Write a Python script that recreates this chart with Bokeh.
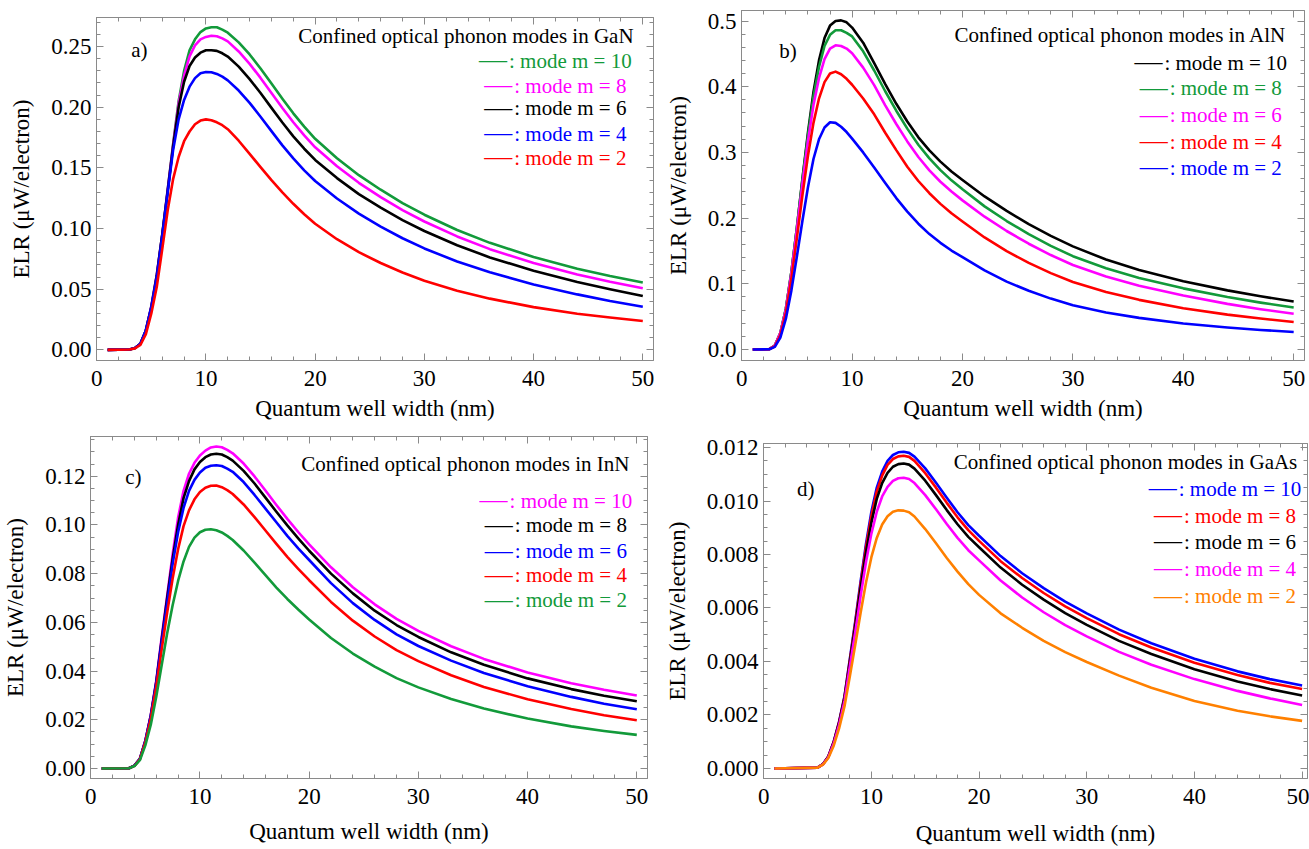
from bokeh.plotting import figure
from bokeh.models import Range1d, LinearAxis, SingleIntervalTicker, Label, PrintfTickFormatter, Spacer
from bokeh.layouts import column, row
from bokeh.embed import file_html
from bokeh.resources import INLINE

# ---------------- data ----------------
# a) GaN
xa = [1, 3, 3.5, 4, 4.5, 5, 5.5, 6, 6.5, 7, 7.5, 8, 8.5, 9, 9.5, 10, 10.5, 11, 11.5, 12,
      13, 14, 15, 16, 17, 18, 19, 20, 22, 24, 26, 28, 30, 33, 36, 40, 44, 47, 50]
a_m10 = [0, .0003, .0015, .005, .016, .036, .062, .095, .132, .170, .205, .230, .247, .256, .262, .265, .266, .266, .264,
         .2615, .2535, .2435, .232, .2195, .207, .195, .184, .174,
         .158, .144, .132, .121, .1114, .0988, .0882, .0765, .0669, .0608, .0555]
a_m8 = [0, .0003, .0015, .005, .016, .036, .062, .095, .132, .169, .203, .226, .242, .251, .256, .258, .259, .2585, .2568,
        .2543, .246, .2358, .2242, .2118, .1994, .1876, .1768, .167,
        .1514, .1377, .1259, .1152, .1058, .0935, .083, .0715, .0621, .0561, .0508]
a_m6 = [0, .0003, .0015, .005, .016, .035, .061, .095, .131, .168, .200, .221, .234, .241, .245, .247, .247, .2465, .2445,
        .2418, .2335, .2232, .2117, .1995, .1874, .176, .1658, .1566,
        .1416, .1284, .1172, .107, .098, .0862, .0762, .0652, .0559, .0499, .0444]
a_m4 = [0, .0003, .0015, .005, .016, .035, .060, .094, .130, .165, .190, .206, .217, .224, .228, .229, .2289, .2275, .2252,
        .2222, .2138, .2036, .1922, .1803, .1686, .1578, .148, .1392,
        .1248, .1123, .1016, .092, .0836, .0728, .0639, .0539, .0457, .0402, .0355]
a_m2 = [0, .0003, .0012, .004, .013, .030, .052, .083, .115, .141, .159, .172, .180, .186, .189, .190, .1893, .1876, .1852,
        .1819, .1724, .1616, .1506, .1399, .1298, .1204, .1118, .104,
        .0912, .0805, .0716, .0638, .057, .0488, .0422, .0352, .0298, .0266, .0238]

# b) AlN
xb = [1, 2.5, 3, 3.5, 4, 4.5, 5, 5.5, 6, 6.5, 7, 7.5, 8, 8.5, 9, 9.5, 10,
      11, 12, 13, 14, 15, 16, 17, 18, 19, 20, 22, 24, 26, 28, 30, 33, 36, 40, 44, 47, 50]
b_m10 = [0, .0005, .006, .025, .062, .118, .186, .260, .330, .392, .440, .474, .493, .500, .501, .498, .490,
         .467, .436, .404, .374, .347, .323, .303, .286, .271, .258,
         .233, .211, .191, .173, .157, .137, .121, .104, .090, .081, .073]
b_m8 = [0, .0005, .006, .025, .062, .118, .186, .258, .326, .385, .430, .462, .479, .486, .486, .482, .4765,
        .4539, .4247, .3931, .3635, .3362, .3117, .2909, .2731, .2575, .2438,
        .2179, .1956, .1757, .1578, .1421, .1236, .1089, .0931, .0799, .0714, .064]
b_m6 = [0, .0005, .006, .025, .061, .116, .183, .252, .317, .372, .413, .442, .458, .463, .462, .458, .451,
        .429, .4024, .3717, .3433, .3168, .293, .2727, .2554, .2404, .227,
        .2022, .1804, .161, .1438, .1287, .111, .097, .0822, .0695, .0614, .0544]
b_m4 = [0, .0005, .005, .022, .056, .108, .170, .235, .295, .345, .382, .407, .420, .423, .419, .412, .403,
        .382, .358, .330, .3035, .2783, .2565, .2379, .2217, .2073, .1948,
        .1706, .1498, .1318, .1163, .1028, .0874, .0756, .0629, .0531, .0471, .042]
b_m2 = [0, .0004, .004, .018, .047, .090, .142, .196, .247, .290, .320, .338, .346, .345, .339, .331, .321,
        .300, .277, .2535, .2305, .2099, .1915, .1757, .1624, .1507, .1406,
        .1205, .1034, .0894, .0775, .0675, .0564, .0482, .0395, .0335, .0298, .0266]

# c) InN
xc = [1, 3.5, 4, 4.5, 5, 5.5, 6, 6.5, 7, 7.5, 8, 8.5, 9, 9.5, 10, 10.5, 11, 11.5, 12, 12.5,
      13, 14, 15, 16, 17, 18, 19, 20, 22, 24, 26, 28, 30, 33, 36, 40, 44, 47, 50]
c_m10 = [0, .0001, .0012, .004, .0115, .022, .036, .054, .071, .088, .103, .114, .121, .1255, .1285, .1305, .1318, .1322, .1319, .1308,
         .1294, .1252, .1199, .1141, .1082, .1025, .0971, .092,
         .0826, .0744, .0674, .0614, .0565, .0502, .045, .0394, .035, .0323, .030]
c_m8 = [0, .0001, .0012, .004, .0113, .0218, .0355, .053, .070, .086, .100, .111, .118, .1228, .1258, .1278, .1289, .1292, .1289, .1278,
        .1264, .1222, .117, .1112, .1054, .0998, .0945, .0894,
        .08, .0719, .0648, .0589, .054, .0477, .0426, .037, .0326, .0299, .0276]
c_m6 = [0, .0001, .0012, .004, .0112, .0215, .035, .052, .068, .084, .097, .107, .114, .1185, .1215, .1235, .1243, .1245, .1242, .1231,
        .1218, .1176, .1123, .1067, .1011, .0955, .0904, .0856,
        .0761, .0679, .061, .0551, .0503, .0443, .0392, .0338, .0294, .0266, .0243]
c_m4 = [0, .0001, .0011, .0038, .0107, .0205, .0335, .049, .064, .078, .090, .0995, .106, .1105, .1135, .1153, .1161, .1162, .1155, .1143,
        .1127, .1084, .1032, .0977, .0922, .0869, .082, .0773,
        .0684, .0607, .0542, .0486, .0441, .0383, .0335, .0284, .0244, .0219, .0198]
c_m2 = [0, .0001, .001, .0034, .0095, .018, .0295, .0425, .0555, .067, .077, .085, .091, .0948, .097, .098, .0982, .0978, .0969, .0955,
        .0938, .0895, .0845, .0794, .0743, .0696, .0653, .0612,
        .0536, .0472, .0418, .0371, .0333, .0285, .0246, .0205, .0173, .0154, .0138]

# d) GaAs
xd = [1, 5, 5.5, 6, 6.5, 7, 7.5, 8, 8.5, 9, 9.5, 10, 10.5, 11, 11.5, 12, 12.5, 13, 13.5, 14,
      15, 16, 17, 18, 19, 20, 22, 24, 26, 28, 30, 33, 36, 40, 44, 47, 50]
d_m10 = [0, .00003, .00016, .00045, .001, .00175, .0027, .0041, .0055, .007, .0084, .0096, .0105, .0111, .0115, .01172, .01182, .01184, .0118, .01166,
         .01122, .01068, .01012, .00958, .0091, .0087,
         .00794, .0073, .00674, .00624, .0058, .00519, .00468, .0041, .00363, .00334, .0031]
d_m8 = [0, .00003, .00016, .00045, .00099, .00173, .00267, .00405, .00543, .0069, .00828, .00945, .01035, .01095, .01135, .01157, .01167, .01169, .01165, .0115,
        .01104, .0105, .00993, .00939, .00891, .00851,
        .00775, .00712, .00656, .00606, .00562, .00502, .00452, .00395, .00349, .0032, .00297]
d_m6 = [0, .00003, .00016, .00044, .00097, .0017, .00262, .00397, .00532, .00675, .00808, .0092, .01008, .01067, .01105, .01128, .01138, .0114, .01136, .01121,
        .01076, .01022, .00966, .00913, .00866, .00827,
        .00751, .00687, .00631, .00581, .00537, .00477, .00428, .00371, .00325, .00297, .00273]
d_m4 = [0, .00003, .00015, .00042, .00093, .00163, .00252, .00382, .0051, .00645, .00772, .00878, .0096, .01017, .01053, .01075, .01085, .01087, .01082, .01067,
        .01022, .00969, .00914, .00862, .00816, .00778,
        .00703, .00639, .00584, .00536, .00494, .00436, .00388, .00334, .0029, .00262, .00237]
d_m2 = [0, .00003, .00014, .00039, .00085, .0015, .00232, .00345, .00462, .00582, .00695, .0079, .00862, .00912, .00943, .0096, .00965, .00964, .00958, .00942,
        .00895, .00842, .00787, .00736, .00689, .00649,
        .0058, .00526, .00477, .00435, .00398, .00347, .00302, .00252, .00216, .00195, .00178]

materials = ["GaN", "AlN", "InN", "GaAs"]
panel_tags = ["a)", "b)", "c)", "d)"]
mode_labels = ["mode m = 10", "mode m = 8", "mode m = 6", "mode m = 4", "mode m = 2"]
x_label = "Quantum well width (nm)"
y_label = "ELR (\u03bcW/electron)"

GREEN = "#129a3a"
MAGENTA = "#ff00ff"
BLACK = "#000000"
BLUE = "#0000ff"
RED = "#ff0000"
ORANGE = "#ff8000"

FONT = "Liberation Serif"
GRAY = "#8a8a8a"
LEG_PX = 21      # legend text size
DASH_PX = 28     # legend dash size

# approximate Times-like advance widths (em) for the legend text
CW = {":": 0.278, " ": 0.25, "m": 0.778, "o": 0.5, "d": 0.5, "e": 0.444, "=": 0.564}


def text_width_px(s, size):
    return sum(CW.get(ch, 0.5) for ch in s) * size


def style_axis(ax, labels=True, ticker=None, fmt=None):
    ax.ticker = ticker
    if fmt is not None:
        ax.formatter = fmt
    ax.axis_line_color = GRAY
    ax.major_tick_line_color = GRAY
    ax.minor_tick_line_color = GRAY
    ax.major_tick_in = 7
    ax.major_tick_out = 0
    ax.minor_tick_in = 4
    ax.minor_tick_out = 0
    ax.major_label_text_font = FONT
    if labels:
        ax.major_label_text_font_size = "23px"
        ax.major_label_text_color = "black"
    else:
        ax.major_label_text_font_size = "1px"
        ax.major_label_text_color = None
        ax.major_label_standoff = 0


def make_panel(cfg):
    p = figure(x_range=Range1d(*cfg["xr"]), y_range=Range1d(*cfg["yr"]),
               frame_width=cfg["fw"], frame_height=cfg["fh"],
               min_border_left=cfg["bl"], min_border_right=cfg["br"],
               min_border_top=cfg["bt"], min_border_bottom=cfg["bb"],
               output_backend="svg", toolbar_location=None,
               background_fill_color="white", border_fill_color="white")
    p.xgrid.visible = False
    p.ygrid.visible = False
    p.outline_line_color = GRAY

    xt = SingleIntervalTicker(interval=10, num_minor_ticks=5)
    yt = SingleIntervalTicker(interval=cfg["yint"], num_minor_ticks=cfg["yminor"])

    style_axis(p.xaxis[0], True, xt, PrintfTickFormatter(format="%d"))
    style_axis(p.yaxis[0], True, yt, PrintfTickFormatter(format=cfg["yfmt"]))
    p.xaxis[0].major_label_standoff = 10
    p.yaxis[0].major_label_standoff = 5
    p.xaxis[0].axis_label = x_label
    p.yaxis[0].axis_label = y_label
    for ax in (p.xaxis[0], p.yaxis[0]):
        ax.axis_label_text_font = FONT
        ax.axis_label_text_font_size = "23px"
        ax.axis_label_text_font_style = "normal"
        ax.axis_label_text_color = "black"
    p.xaxis[0].axis_label_standoff = cfg["xls"]
    p.yaxis[0].axis_label_standoff = 14

    top = LinearAxis()
    style_axis(top, False, SingleIntervalTicker(interval=10, num_minor_ticks=5))
    p.add_layout(top, "above")
    right = LinearAxis()
    style_axis(right, False, SingleIntervalTicker(interval=cfg["yint"], num_minor_ticks=cfg["yminor"]))
    p.add_layout(right, "right")

    for ys, col in zip(cfg["series"], cfg["colors"]):
        p.line(cfg["x"], ys, line_color=col, line_width=2.6, line_join="round")

    p.add_layout(Label(x=cfg["tag"][0], y=cfg["tag"][1], text=cfg["tagtext"],
                       text_font=FONT, text_font_size="21px", text_color="black",
                       text_align="center", text_baseline="middle"))
    p.add_layout(Label(x=cfg["title"][0], y=cfg["title"][1],
                       text="Confined optical phonon modes in " + cfg["mat"],
                       text_font=FONT, text_font_size="21px", text_color="black",
                       text_align="center", text_baseline="middle"))

    # legend rows: coloured dash + ": mode m = N", centred on legx
    pxu = cfg["fw"] / (cfg["xr"][1] - cfg["xr"][0])   # pixels per x unit
    for lab, col, ly in zip(mode_labels, cfg["colors"], cfg["legy"]):
        txt = ": " + lab
        total = DASH_PX + text_width_px(txt, LEG_PX)
        x_join = cfg["legx"] + (-total / 2.0 + DASH_PX) / pxu
        p.add_layout(Label(x=x_join, y=ly, text="\u2014",
                           text_font=FONT, text_font_size="%dpx" % DASH_PX,
                           text_color=col, text_align="right", text_baseline="middle",
                           y_offset=2))
        p.add_layout(Label(x=x_join, y=ly, text=txt, x_offset=2,
                           text_font=FONT, text_font_size="%dpx" % LEG_PX, text_color=col,
                           text_align="left", text_baseline="middle"))
    return p


cfg_a = dict(x=xa, series=[a_m10, a_m8, a_m6, a_m4, a_m2], colors=[GREEN, MAGENTA, BLACK, BLUE, RED],
             xr=(-0.02, 50.98), yr=(-0.0088, 0.274), fw=557, fh=343, bl=96, br=7, bt=10, bb=65,
             yint=0.05, yminor=5, yfmt="%.2f", xls=7, mat=materials[0], tagtext=panel_tags[0],
             tag=(3.9, 0.2476), title=(33.8, 0.259), legx=41.9,
             legy=[0.2385, 0.2179, 0.1990, 0.1783, 0.1585])
cfg_b = dict(x=xb, series=[b_m10, b_m8, b_m6, b_m4, b_m2], colors=[BLACK, GREEN, MAGENTA, RED, BLUE],
             xr=(-0.02, 50.98), yr=(-0.0167, 0.516), fw=563, fh=350, bl=81, br=5, bt=10, bb=65,
             yint=0.1, yminor=5, yfmt="%.1f", xls=7, mat=materials[1], tagtext=panel_tags[1],
             tag=(4.2, 0.455), title=(34.3, 0.478), legx=42.4,
             legy=[0.4368, 0.3973, 0.3562, 0.3166, 0.2770])
cfg_c = dict(x=xc, series=[c_m10, c_m8, c_m6, c_m4, c_m2], colors=[MAGENTA, BLACK, BLUE, RED, GREEN],
             xr=(-0.02, 50.98), yr=(-0.0041, 0.1363), fw=557, fh=342, bl=90, br=8, bt=11, bb=71,
             yint=0.02, yminor=4, yfmt="%.2f", xls=12, mat=materials[2], tagtext=panel_tags[2],
             tag=(3.9, 0.1195), title=(34.3, 0.1252), legx=42.5,
             legy=[0.1100, 0.0998, 0.0891, 0.0793, 0.0690])
cfg_d = dict(x=xd, series=[d_m10, d_m8, d_m6, d_m4, d_m2], colors=[BLUE, RED, BLACK, MAGENTA, ORANGE],
             xr=(-0.02, 50.5), yr=(-0.000376, 0.01215), fw=544, fh=335, bl=108, br=2, bt=11, bb=71,
             yint=0.002, yminor=4, yfmt="%.3f", xls=14, mat=materials[3], tagtext=panel_tags[3],
             tag=(3.9, 0.01046), title=(33.6, 0.01146), legx=42.75,
             legy=[0.01046, 0.00944, 0.00847, 0.00746, 0.00644])

pa = make_panel(cfg_a)
pb = make_panel(cfg_b)
pc = make_panel(cfg_c)
pd = make_panel(cfg_d)

top_row = row(column(Spacer(width=660, height=7), pa), pb)
bottom_row = row(pc, column(Spacer(width=654, height=7), pd))
layout = column(top_row, bottom_row)
open("out.html", "w").write(file_html(layout, INLINE))
